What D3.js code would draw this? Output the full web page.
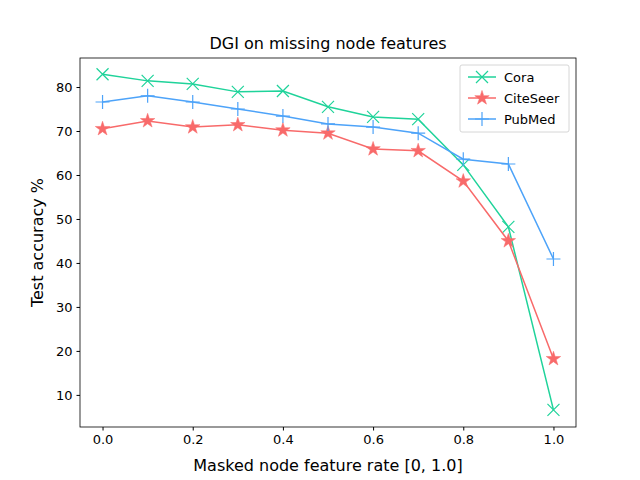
<!DOCTYPE html>
<html><head><meta charset="utf-8">
<script src="https://cdn.jsdelivr.net/npm/d3@7"></script>
<style>body{margin:0;background:#fff}text{font-family:"DejaVu Sans",sans-serif}</style>
</head><body>
<script>
var rates = [0.0, 0.1, 0.2, 0.3, 0.4, 0.5, 0.6, 0.7, 0.8, 0.9, 1.0];
var cora = [82.9, 81.4, 80.7, 78.9, 79.1, 75.5, 73.2, 72.7, 62.3, 48.2, 6.6];
var citeseer = [70.5, 72.3, 70.9, 71.4, 70.2, 69.5, 65.9, 65.5, 58.6, 45.0, 18.2];
var pubmed = [76.6, 78.0, 76.6, 75.0, 73.4, 71.6, 70.9, 69.5, 63.6, 62.5, 40.9];
var xTicks = [0.0, 0.2, 0.4, 0.6, 0.8, 1.0];
var yTicks = [10, 20, 30, 40, 50, 60, 70, 80];

var series = [
  {name: "Cora", values: cora, color: "#1fd39a", marker: "x"},
  {name: "CiteSeer", values: citeseer, color: "#f86a6a", marker: "star"},
  {name: "PubMed", values: pubmed, color: "#4da3f9", marker: "plus"}
];

var w = 640, h = 480;
var m = {left: 80, right: 64, top: 58, bottom: 53};

var svg = d3.select("body").append("svg").attr("width", w).attr("height", h);

var x = d3.scaleLinear().domain([-0.05, 1.05]).range([m.left, w - m.right]);
var y = d3.scaleLinear().domain([2.7, 86.6]).range([h - m.bottom, m.top]);

function markerPath(type) {
  if (type === "x") return "M-6,-6L6,6M-6,6L6,-6";
  if (type === "plus") return "M-7,0L7,0M0,-7L0,7";
  return d3.symbol().type(d3.symbolStar).size(65)();
}

var xAxis = svg.append("g").attr("transform", "translate(0," + (h - m.bottom) + ")")
  .call(d3.axisBottom(x).tickValues(xTicks).tickFormat(d3.format(".1f")).tickSize(3.5).tickPadding(4));
var yAxis = svg.append("g").attr("transform", "translate(" + m.left + ",0)")
  .call(d3.axisLeft(y).tickValues(yTicks).tickSize(3.5).tickPadding(4));
[xAxis, yAxis].forEach(function(a) {
  a.selectAll("text").attr("font-size", 13).attr("fill", "#000");
  a.select(".domain").remove();
});

var line = d3.line().x(function(d) { return x(d[0]); }).y(function(d) { return y(d[1]); });

series.forEach(function(s) {
  var pts = rates.map(function(r, i) { return [r, s.values[i]]; });
  svg.append("path").datum(pts).attr("d", line)
    .attr("fill", "none").attr("stroke", s.color).attr("stroke-width", 1.5);
  svg.selectAll(null).data(pts).enter().append("path")
    .attr("transform", function(d) { return "translate(" + x(d[0]) + "," + y(d[1]) + ")"; })
    .attr("d", markerPath(s.marker))
    .attr("fill", s.color).attr("stroke", s.color).attr("stroke-width", s.marker === "star" ? 0.5 : 1.2);
});

svg.append("rect").attr("x", m.left).attr("y", m.top)
  .attr("width", w - m.left - m.right).attr("height", h - m.top - m.bottom)
  .attr("fill", "none").attr("stroke", "#000").attr("stroke-width", 0.8);

svg.append("text").attr("x", (m.left + w - m.right) / 2).attr("y", 49)
  .attr("text-anchor", "middle").attr("font-size", 16).text("DGI on missing node features");
svg.append("text").attr("x", (m.left + w - m.right) / 2).attr("y", 471)
  .attr("text-anchor", "middle").attr("font-size", 16).text("Masked node feature rate [0, 1.0]");
svg.append("text").attr("transform", "translate(43," + ((m.top + h - m.bottom) / 2) + ") rotate(-90)")
  .attr("text-anchor", "middle").attr("font-size", 16).text("Test accuracy %");

var lg = svg.append("g").attr("transform", "translate(460,65)");
lg.append("rect").attr("width", 109).attr("height", 67).attr("rx", 2)
  .attr("fill", "#fff").attr("stroke", "#ccc").attr("stroke-width", 0.8);
series.forEach(function(s, i) {
  var g = lg.append("g").attr("transform", "translate(0," + (12 + i * 21) + ")");
  g.append("line").attr("x1", 8).attr("x2", 36).attr("stroke", s.color).attr("stroke-width", 1.5);
  g.append("path").attr("transform", "translate(22,0)").attr("d", markerPath(s.marker))
    .attr("fill", s.color).attr("stroke", s.color).attr("stroke-width", s.marker === "star" ? 0.5 : 1.2);
  g.append("text").attr("x", 44).attr("y", 5).attr("font-size", 13).text(s.name);
});
</script>
</body></html>
